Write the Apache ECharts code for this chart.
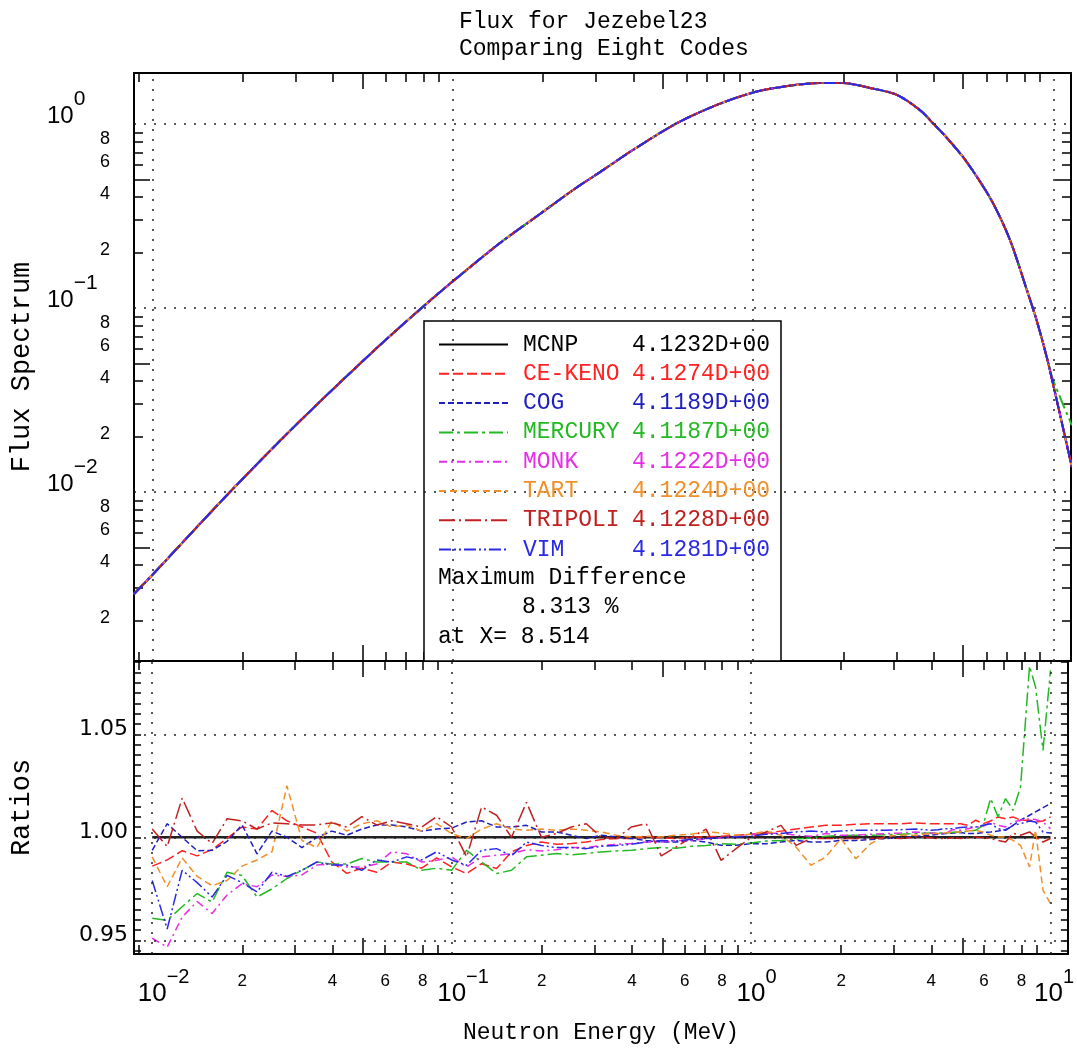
<!DOCTYPE html>
<html><head><meta charset="utf-8">
<script src="https://cdn.jsdelivr.net/npm/echarts@6/dist/echarts.min.js"></script>
<style>html,body{margin:0;padding:0;background:#fff}#c{width:1077px;height:1049px}</style>
</head><body><div id="c"></div>
<script>
// ---------------- data ----------------
const codes = ['MCNP','CE-KENO','COG','MERCURY','MONK','TART','TRIPOLI','VIM'];
const keffValues = ['4.1232D+00','4.1274D+00','4.1189D+00','4.1187D+00','4.1222D+00','4.1224D+00','4.1228D+00','4.1281D+00'];
const maxDiffText = ['Maximum Difference', '8.313 %', 'at X= 8.514'];

// flux spectrum (top panel)
const fluxE = [0.008693, 0.01, 0.01814, 0.03102, 0.05589, 0.08087, 0.09946, 0.1437, 0.1952, 0.2517, 0.3094, 0.398, 0.5577, 0.7578, 0.9945, 1.228, 1.669, 1.99, 2.447, 3.01, 3.593, 3.97, 4.42, 4.995, 5.565, 6.286, 7.166, 8.155, 8.81, 9.51, 9.95, 11.51];
const fluxMain = [0.00279, 0.00354, 0.0100, 0.0243, 0.0606, 0.1038, 0.1384, 0.2255, 0.324, 0.438, 0.548, 0.722, 1.01, 1.27, 1.48, 1.585, 1.67, 1.67, 1.57, 1.44, 1.19, 1.01, 0.839, 0.662, 0.515, 0.372, 0.234, 0.125, 0.0845, 0.0535, 0.0391, 0.01368];
const fluxMercury = [0.00279, 0.00354, 0.0100, 0.0243, 0.0606, 0.1038, 0.1384, 0.2255, 0.324, 0.438, 0.548, 0.722, 1.01, 1.27, 1.48, 1.585, 1.67, 1.67, 1.57, 1.44, 1.19, 1.01, 0.839, 0.662, 0.515, 0.372, 0.234, 0.125, 0.0845, 0.0535, 0.0410, 0.0230];

// ratios (bottom panel)
const ratioE = [0.01, 0.01122, 0.01259, 0.01413, 0.01585, 0.01778, 0.01995, 0.02239, 0.02512, 0.02818,
  0.03162, 0.03548, 0.03981, 0.04467, 0.05012, 0.05623, 0.06310, 0.07079, 0.07943, 0.08913,
  0.1000, 0.1122, 0.1259, 0.1413, 0.1585, 0.1778, 0.1995, 0.2239, 0.2512, 0.2818,
  0.3162, 0.3548, 0.3981, 0.4467, 0.5012, 0.5623, 0.6310, 0.7079, 0.7943, 0.8913,
  1.000, 1.122, 1.259, 1.413, 1.585, 1.778, 1.995, 2.239, 2.512, 2.818,
  3.162, 3.548,
  3.981, 4.217, 4.467, 4.732, 5.012, 5.309, 5.623, 5.957, 6.310, 6.683, 7.079, 7.499, 7.943, 8.514, 8.913, 9.441, 10.0];
const ratioMcnpE = [0.01, 10.0];
const ratioMcnp = [1.0, 1.0];
const ratioCeKeno = [0.986, 0.989, 0.9935, 0.991, 0.994, 0.9995, 1.005, 1.004, 1.013, 1.008,
  1.005, 1.002, 0.988, 0.9825, 0.985, 0.983, 0.988, 0.987, 0.985, 0.990,
  0.9856, 0.9824, 0.9872, 0.9848, 0.993, 0.996, 0.9977, 0.9966, 0.997, 0.9977,
  0.9989, 0.9994, 0.9994, 1.0002, 0.9998, 0.9994, 1.0002, 1.0002, 1.0005, 1.001,
  1.0015, 1.002, 1.003, 1.004, 1.005, 1.0058, 1.0058, 1.0063, 1.0066, 1.0066,
  1.0066, 1.007,
  1.0066, 1.0066, 1.0066, 1.0066, 1.0066, 1.0058, 1.0083, 1.0066, 1.0079, 1.0099, 1.009, 1.0099, 1.0083, 1.0083, 1.0074, 1.0079, 1.0099];
const ratioCog = [0.9937, 1.0066, 1.0, 0.9935, 0.9937, 0.998, 1.006, 0.992, 1.003, 1.0,
  0.995, 1.0, 1.003, 1.001, 1.004, 1.006, 1.006, 1.005, 1.003, 1.004,
  1.0045, 1.0074, 1.008, 1.005, 1.005, 1.0058, 1.0026, 1.0026, 1.001, 0.9994,
  1.001, 1.0002, 0.9994, 0.9985, 0.9977, 0.9977, 0.9985, 0.9977, 0.9961, 0.9961,
  0.9969, 0.9969, 0.9977, 0.9985, 0.9977, 0.9977, 0.9985, 0.9985, 0.9989, 0.9994,
  0.9998, 1.0005,
  1.001, 1.0015, 1.0018, 1.0021, 1.0023, 1.0018, 1.0018, 1.0023, 1.0026, 1.003, 1.0037, 1.0058, 1.0083, 1.0107, 1.0123, 1.0144, 1.0163];
const ratioMercury = [0.9607, 0.9597, 0.9663, 0.9727, 0.9686, 0.983, 0.9815, 0.971, 0.975, 0.980,
  0.984, 0.988, 0.987, 0.987, 0.9897, 0.988, 0.988, 0.988, 0.984, 0.985,
  0.984, 0.9937, 0.988, 0.9824, 0.984, 0.9905, 0.9913, 0.9921, 0.9915, 0.9921,
  0.9929, 0.9934, 0.9937, 0.9945, 0.995, 0.9947, 0.9956, 0.996, 0.9969, 0.9966,
  0.9972, 0.9982, 0.9985, 0.9992, 0.9997, 1.0005, 1.0008, 1.001, 1.001, 1.0013,
  1.0015, 1.0018,
  1.0021, 1.0021, 1.0021, 1.0024, 1.0026, 1.003, 1.0034, 1.0058, 1.0188, 1.0099, 1.0188, 1.0131, 1.0244, 1.0831, 1.073, 1.0422, 1.081];
const ratioMonk = [0.951, 0.9467, 0.9613, 0.9688, 0.963, 0.972, 0.9775, 0.976, 0.9817, 0.981,
  0.9817, 0.9865, 0.9872, 0.9856, 0.9856, 0.987, 0.993, 0.992, 0.988, 0.9888,
  0.9905, 0.9856, 0.9905, 0.9913, 0.992, 0.994, 0.9934, 0.994, 0.995, 0.995,
  0.996, 0.9966, 0.997, 0.9977, 0.9977, 0.9985, 0.9985, 0.9992, 0.9998, 1.0005,
  1.0015, 1.002, 1.002, 1.001, 1.0005, 1.0018, 1.001, 1.001, 1.0015, 1.0018,
  1.0021, 1.0026,
  1.0021, 1.0018, 1.0021, 1.0037, 1.0034, 1.0042, 1.005, 1.0053, 1.0074, 1.0058, 1.005, 1.0074, 1.0083, 1.009, 1.0086, 1.0074, 1.0042];
const ratioTart = [0.9905, 0.976, 0.990, 0.981, 0.9765, 0.979, 0.986, 0.989, 0.993, 1.025,
  0.9985, 0.995, 1.008, 1.003, 1.0066, 1.008, 1.005, 1.006, 1.003, 1.0066,
  1.0018, 0.9994, 1.004, 1.0066, 1.004, 1.0034, 1.004, 1.0034, 1.004, 1.0034,
  1.0026, 1.001, 1.0002, 1.0005, 1.0002, 1.001, 1.0015, 1.0026, 1.0021, 1.001,
  1.0015, 1.003, 1.001, 0.9953, 0.9864, 0.9905, 0.9994, 0.9896, 0.997, 1.0005,
  1.001, 1.001,
  1.0018, 1.0018, 1.0021, 1.0026, 1.0026, 1.003, 1.0034, 1.0026, 1.001, 1.0002, 1.0002, 0.9985, 0.9961, 0.9856, 1.0034, 0.9743, 0.9678];
const ratioTripoli = [1.004, 0.9955, 1.019, 1.003, 0.997, 1.009, 1.008, 1.004, 1.007, 1.0066,
  1.006, 1.006, 1.007, 1.005, 1.010, 1.006, 1.008, 1.0066, 1.005, 1.010,
  1.005, 0.9905, 1.0147, 1.0107, 1.0, 1.017, 1.0, 1.0018, 1.005, 1.0066,
  1.0, 0.9994, 1.005, 1.0066, 0.991, 0.9953, 1.0, 1.004, 0.9888, 0.9945,
  1.0, 1.0026, 1.0058, 0.9961, 0.9994, 0.9994, 0.9994, 0.9994, 0.9994, 0.9998,
  0.9994, 1.0002,
  0.9998, 0.9994, 0.9994, 0.9998, 0.9994, 0.9998, 1.0002, 0.9998, 0.9994, 0.9985, 0.9977, 1.002, 1.001, 1.0026, 1.0002, 0.9977, 0.9994];
const ratioVim = [0.979, 0.9555, 0.984, 0.978, 0.971, 0.9815, 0.978, 0.9735, 0.983, 0.981,
  0.984, 0.988, 0.9865, 0.9865, 0.984, 0.989, 0.988, 0.9905, 0.989, 0.993,
  0.989, 0.9864, 0.9937, 0.9945, 0.991, 0.9977, 0.996, 0.995, 0.995, 0.9945,
  0.9956, 0.996, 0.9966, 0.9977, 0.9985, 0.9982, 0.999, 0.9994, 0.9998, 1.0002,
  1.0005, 1.0015, 1.0018, 1.0026, 1.003, 1.0026, 1.003, 1.0034, 1.0034, 1.0034,
  1.0037, 1.004,
  1.0034, 1.0037, 1.0042, 1.0042, 1.0047, 1.005, 1.005, 1.0058, 1.0066, 1.0042, 1.0034, 1.0058, 1.0066, 1.0079, 1.0074, 1.0026, 1.0021];

// tick labels / grid lines
const xTickLabels = [0.01, 0.02, 0.04, 0.06, 0.08, 0.1, 0.2, 0.4, 0.6, 0.8, 1, 2, 4, 6, 8, 10];
const fluxTickLabels = [0.002, 0.004, 0.006, 0.008, 0.01, 0.02, 0.04, 0.06, 0.08, 0.1, 0.2, 0.4, 0.6, 0.8, 1];
const ratioTickLabels = [0.95, 1.00, 1.05];
const xGridLines = [0.01, 0.1, 1, 10];
const fluxGridLines = [0.01, 0.1, 1];
const ratioGridLines = [0.95, 1.00, 1.05];

// ---------------- styling ----------------
const X_MIN = 0.008693, X_MAX = 11.435;
const Y_MIN = 0.001206, Y_MAX = 1.893;
const R_MIN = 0.94335, R_MAX = 1.08558;

const colors = {'MCNP':'#000000','CE-KENO':'#ff2222','COG':'#1f1fbf','MERCURY':'#22b922','MONK':'#e52ee5','TART':'#f0902a','TRIPOLI':'#c02020','VIM':'#2a2ae6'};
const dashes = {'MCNP':'solid','CE-KENO':[10,4],'COG':[6,3],'MERCURY':[14,4,3,4],'MONK':[8,4,2,4],'TART':[7,4],'TRIPOLI':[16,4,2,4],'VIM':[12,3,2,3,2,3]};
const ratioByCode = {'CE-KENO':ratioCeKeno,'COG':ratioCog,'MERCURY':ratioMercury,'MONK':ratioMonk,'TART':ratioTart,'TRIPOLI':ratioTripoli,'VIM':ratioVim};

function logTicks(mants, lo, hi) {
  const out = [];
  for (let e = -4; e <= 2; e++) for (const m of mants) {
    const v = Number((m * Math.pow(10, e)).toPrecision(6));
    if (v > lo && v < hi) out.push(v);
  }
  return out;
}
const minorMants = [2,3,4,6,7,8,9], majorMants = [5];
const xMinor = logTicks(minorMants, X_MIN, X_MAX), xMajor = logTicks(majorMants, X_MIN, X_MAX);
const yMinor = logTicks(minorMants, Y_MIN, Y_MAX), yMajor = logTicks(majorMants, Y_MIN, Y_MAX);
const rTicks = [];
for (let k = 189; k <= 217; k++) rTicks.push(Number((k * 0.005).toFixed(4)));
// label order: first and last labels are far apart from their neighbours in this list,
// so ECharts' first/last-label overlap check never hides a label
const nF = fluxTickLabels.length;
const fluxLabelOrder = [fluxTickLabels[nF - 1]].concat(fluxTickLabels.slice(1, nF - 1), [fluxTickLabels[0]]);

function decomp(v) { const e = Math.floor(Math.log10(v) + 1e-9); return {e: e, m: Math.round(v / Math.pow(10, e))}; }
function sup(e) { return e < 0 ? '\u2212' + (-e) : String(e); }

const SANS = 'Liberation Sans', MONO = 'Liberation Mono';
const lineAx = {show: true, onZero: false, lineStyle: {color: '#000', width: 2}};
const noLine = {show: false, onZero: false};
function ticks(vals, len) { return {show: true, inside: true, length: len, customValues: vals, lineStyle: {color: '#000', width: 1.5}}; }
const noLabel = {show: false};
const noSplit = {show: false};

function xAx(grid, pos, line, tk, extra) {
  return Object.assign({gridIndex: grid, type: 'log', logBase: 10, position: pos, min: X_MIN, max: X_MAX,
    axisLine: line, axisTick: tk, axisLabel: noLabel, splitLine: noSplit, minorTick: {show: false}}, extra || {});
}
function yLogAx(grid, pos, line, tk, extra) {
  return Object.assign({gridIndex: grid, type: 'log', logBase: 10, position: pos, min: Y_MIN, max: Y_MAX,
    axisLine: line, axisTick: tk, axisLabel: noLabel, splitLine: noSplit, minorTick: {show: false}}, extra || {});
}

const xLabel = {
  show: true, customValues: xTickLabels, margin: 20, verticalAlign: 'top', align: 'center', color: '#000',
  showMinLabel: true, showMaxLabel: true, hideOverlap: false,
  formatter: function (v) {
    const p = decomp(v);
    if (p.m === 1) {
      const s = sup(p.e);
      return (p.e === 1 ? '{e1| }' : '{e|' + s + '}') + '{d|10}{s|' + s + '}';
    }
    return '{m|' + p.m + '}';
  },
  rich: {
    e: {fontSize: 20, lineHeight: 20, padding: [0, 0, 20, 0], fontFamily: SANS, color: 'rgba(0,0,0,0)'},
    e1: {width: 7, fontSize: 10, lineHeight: 20, padding: [0, 0, 20, 0], fontFamily: SANS, color: 'rgba(0,0,0,0)'},
    d: {fontSize: 26, lineHeight: 26, padding: [14, 0, 0, 0], fontFamily: SANS, color: '#000'},
    s: {fontSize: 20, lineHeight: 20, padding: [0, 0, 20, 0], fontFamily: SANS, color: '#000'},
    m: {fontSize: 17, lineHeight: 27, padding: [0, 0, 13, 0], fontFamily: SANS, color: '#000'}
  }
};
const yLabel = {
  show: true, customValues: fluxLabelOrder, margin: 87, align: 'left', verticalAlign: 'middle', color: '#000',
  showMinLabel: true, showMaxLabel: true, hideOverlap: false,
  formatter: function (v) {
    const p = decomp(v);
    if (p.m === 1) return '{d|10}{s|' + sup(p.e) + '}';
    return '{m|' + p.m + '}';
  },
  rich: {
    d: {fontSize: 24, lineHeight: 24, padding: [13.5, 0, 29.5, 0], fontFamily: SANS, color: '#000'},
    s: {fontSize: 21, lineHeight: 18, padding: [0, 0, 49, 0], fontFamily: SANS, color: '#000'},
    m: {fontSize: 18, lineHeight: 12, padding: [0, 0, 6, 53], fontFamily: SANS, color: '#000'}
  }
};
const rLabel = {
  show: true, customValues: ratioTickLabels, margin: 6, align: 'right', color: '#000',
  showMinLabel: true, showMaxLabel: true,
  formatter: function (v) { return '{r|' + v.toFixed(2) + '}'; },
  rich: {r: {fontSize: 22, lineHeight: 22, padding: [0, 0, 10, 0], fontFamily: 'DejaVu Sans', color: '#000'}}
};

const gridTop = {left: 134, top: 73, width: 937, height: 588};
const gridBot = {left: 134, top: 661, width: 937, height: 293};

const gridMark = (xs, ys) => ({
  silent: true, symbol: ['none', 'none'], label: {show: false}, animation: false,
  emphasis: {disabled: true},
  lineStyle: {type: [2, 8], color: '#222', width: 1.5},
  data: xs.map(v => ({xAxis: v})).concat(ys.map(v => ({yAxis: v})))
});

const series = [];
codes.forEach(function (c) {
  const f = c === 'MERCURY' ? fluxMercury : fluxMain;
  const s = {
    name: c, type: 'line', xAxisIndex: 0, yAxisIndex: 0, symbol: 'none', showSymbol: false,
    smooth: 0.3, animation: false, emphasis: {disabled: true},
    data: fluxE.map((e, i) => [e, f[i]]),
    lineStyle: {color: colors[c], width: 2, type: dashes[c]}, itemStyle: {color: colors[c]}
  };
  if (c === 'MCNP') s.markLine = gridMark(xGridLines, fluxGridLines);
  series.push(s);
});
codes.forEach(function (c) {
  const isM = c === 'MCNP';
  const xs = isM ? ratioMcnpE : ratioE;
  const ys = isM ? ratioMcnp : ratioByCode[c];
  const s = {
    name: c, type: 'line', xAxisIndex: 2, yAxisIndex: 2, symbol: 'none', showSymbol: false,
    animation: false, emphasis: {disabled: true},
    data: xs.map((e, i) => [e, ys[i]]),
    lineStyle: {color: isM ? '#222' : colors[c], width: isM ? 2.5 : 1.5, type: dashes[c]}, itemStyle: {color: colors[c]}
  };
  if (isM) s.markLine = gridMark(xGridLines, ratioGridLines);
  series.push(s);
});

const legendRich = {};
codes.forEach(function (c, i) {
  legendRich['n' + i] = {width: 109, padding: [0, 0, 0, 10], fontSize: 23, fontFamily: MONO, color: colors[c]};
  legendRich['v' + i] = {fontSize: 23, fontFamily: MONO, color: colors[c]};
});

const option = {
  backgroundColor: '#fff',
  animation: false,
  textStyle: {fontFamily: SANS},
  title: {
    text: 'Flux for Jezebel23\nComparing Eight Codes', left: 459, top: 8, padding: 0,
    textStyle: {fontFamily: MONO, fontSize: 23, fontWeight: 'normal', lineHeight: 27, color: '#000'}
  },
  legend: {
    orient: 'vertical', left: 438, top: 333, padding: 0, itemGap: 6.3, itemWidth: 69, itemHeight: 14,
    selectedMode: false, z: 6,
    itemStyle: {color: 'rgba(0,0,0,0)', borderWidth: 0, borderColor: 'rgba(0,0,0,0)'},
    data: codes.map(c => ({name: c})),
    formatter: function (name) { const i = codes.indexOf(name); return '{n' + i + '|' + name + '}{v' + i + '|' + keffValues[i] + '}'; },
    textStyle: {fontFamily: MONO, fontSize: 23, rich: legendRich}
  },
  graphic: [
    {type: 'rect', z: 3, shape: {x: 424, y: 321, width: 357, height: 340}, style: {fill: '#fff', stroke: '#000', lineWidth: 1.5}},
    {type: 'text', z: 6, style: {text: maxDiffText[0], x: 438, y: 578, verticalAlign: 'middle', font: '23px "Liberation Mono"', fill: '#000'}},
    {type: 'text', z: 6, style: {text: maxDiffText[1], x: 522, y: 607, verticalAlign: 'middle', font: '23px "Liberation Mono"', fill: '#000'}},
    {type: 'text', z: 6, style: {text: maxDiffText[2], x: 438, y: 637, verticalAlign: 'middle', font: '23px "Liberation Mono"', fill: '#000'}}
  ],
  grid: [gridTop, gridBot, Object.assign({}, gridTop), Object.assign({}, gridBot)],
  xAxis: [
    xAx(0, 'bottom', lineAx, ticks(xMinor, 9)),
    xAx(0, 'top', lineAx, ticks(xMinor, 9)),
    xAx(1, 'bottom', lineAx, ticks(xMinor, 9), {axisLabel: xLabel, name: 'Neutron Energy (MeV)', nameLocation: 'middle', nameGap: 67,
      nameTextStyle: {fontFamily: MONO, fontSize: 23, color: '#000'}}),
    xAx(1, 'top', lineAx, ticks(xMinor, 9)),
    xAx(2, 'bottom', noLine, ticks(xMajor, 16)),
    xAx(2, 'top', noLine, ticks(xMajor, 16)),
    xAx(3, 'bottom', noLine, ticks(xMajor, 16)),
    xAx(3, 'top', noLine, ticks(xMajor, 16))
  ],
  yAxis: [
    yLogAx(0, 'left', lineAx, ticks(yMinor, 9), {axisLabel: yLabel, name: 'Flux Spectrum', nameLocation: 'middle', nameGap: 99,
      nameTextStyle: {fontFamily: MONO, fontSize: 27, color: '#000'}}),
    yLogAx(0, 'right', lineAx, ticks(yMinor, 9)),
    {gridIndex: 1, type: 'value', position: 'left', min: R_MIN, max: R_MAX, axisLine: lineAx, axisTick: ticks(rTicks, 7),
      axisLabel: rLabel, splitLine: noSplit, name: 'Ratios', nameLocation: 'middle', nameGap: 99,
      nameTextStyle: {fontFamily: MONO, fontSize: 27, color: '#000'}},
    {gridIndex: 1, type: 'value', position: 'right', min: R_MIN, max: R_MAX, axisLine: lineAx, axisTick: ticks(rTicks, 7),
      axisLabel: noLabel, splitLine: noSplit},
    yLogAx(2, 'left', noLine, ticks(yMajor, 16)),
    yLogAx(2, 'right', noLine, ticks(yMajor, 16)),
    {gridIndex: 3, type: 'value', min: 0, max: 1, show: false, axisLine: noLine, splitLine: noSplit}
  ],
  series: series
};

const chart = echarts.init(document.getElementById('c'), null, {renderer: 'canvas'});
chart.setOption(option);
</script>
</body></html>
